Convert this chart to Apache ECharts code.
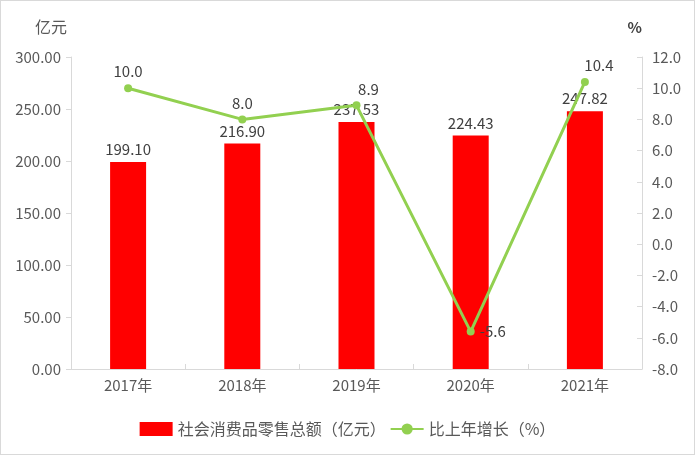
<!DOCTYPE html>
<html>
<head>
<meta charset="utf-8">
<script src="https://cdn.jsdelivr.net/npm/echarts@6/dist/echarts.min.js"></script>
<style>
  html, body { margin: 0; padding: 0; background: #fff; }
  #chart { width: 693px; height: 453px; border: 1px solid #d9d9d9; }
</style>
</head>
<body>
<div id="chart"></div>
<script>
const years = ['2017年', '2018年', '2019年', '2020年', '2021年'];
const retailSales = [199.10, 216.90, 237.53, 224.43, 247.82];
const growthRate = [10.0, 8.0, 8.9, -5.6, 10.4];

const labelFont = '"Noto Sans CJK SC", "Noto Sans", sans-serif';
const textColor = '#595959';

const myChart = echarts.init(document.getElementById('chart'));
const option = {
  animation: false,
  grid: {
    left: 70,
    right: 52,
    top: 56,
    bottom: 85
  },
  legend: {
    bottom: 12,
    left: 'center',
    itemWidth: 33,
    itemHeight: 14,
    itemGap: 4,
    textStyle: {
      color: textColor,
      fontSize: 16,
      fontFamily: labelFont
    },
    data: [
      { name: '社会消费品零售总额（亿元）', icon: 'rect' },
      { name: '比上年增长（%）' }
    ]
  },
  xAxis: {
    type: 'category',
    data: years,
    axisLine: { lineStyle: { color: '#d9d9d9', width: 1 } },
    axisTick: { show: true, inside: true, length: 5, lineStyle: { color: '#d9d9d9' } },
    axisLabel: {
      color: textColor,
      fontSize: 15,
      margin: 9,
      fontFamily: labelFont
    }
  },
  yAxis: [
    {
      type: 'value',
      name: '亿元',
      nameLocation: 'end',
      nameGap: 22,
      nameTextStyle: {
        color: textColor,
        fontSize: 16,
        align: 'right',
        padding: [0, 4, 0, 0],
        fontFamily: labelFont
      },
      min: 0,
      max: 300,
      interval: 50,
      splitLine: { show: false },
      axisLine: { show: true, lineStyle: { color: '#d9d9d9' } },
      axisTick: { show: true, length: 5, lineStyle: { color: '#d9d9d9' } },
      axisLabel: {
        color: textColor,
        fontSize: 15,
        margin: 10,
        fontFamily: labelFont,
        formatter: (v) => v.toFixed(2)
      }
    },
    {
      type: 'value',
      name: '%',
      nameLocation: 'end',
      nameGap: 22,
      nameTextStyle: {
        color: '#404040',
        fontSize: 15,
        fontWeight: 'bold',
        align: 'right',
        fontFamily: labelFont
      },
      min: -8,
      max: 12,
      interval: 2,
      splitLine: { show: false },
      axisLine: { show: true, lineStyle: { color: '#d9d9d9' } },
      axisTick: { show: true, inside: true, length: 5, lineStyle: { color: '#d9d9d9' } },
      axisLabel: {
        color: textColor,
        fontSize: 15,
        margin: 10,
        fontFamily: labelFont,
        formatter: (v) => v.toFixed(1)
      }
    }
  ],
  series: [
    {
      name: '社会消费品零售总额（亿元）',
      type: 'bar',
      barWidth: 36,
      itemStyle: { color: '#ff0000' },
      label: {
        show: true,
        position: 'top',
        distance: 5,
        color: '#404040',
        fontSize: 15,
        fontFamily: labelFont,
        formatter: (p) => p.value.toFixed(2)
      },
      data: retailSales
    },
    {
      name: '比上年增长（%）',
      type: 'line',
      yAxisIndex: 1,
      symbol: 'circle',
      symbolSize: 8,
      lineStyle: { color: '#92d050', width: 3 },
      itemStyle: { color: '#92d050' },
      label: {
        show: true,
        position: 'top',
        distance: 5,
        color: '#404040',
        fontSize: 15,
        fontFamily: labelFont,
        formatter: (p) => p.value.toFixed(1)
      },
      data: growthRate.map((v, i) => {
        if (i === 2) {
          return { value: v, label: { offset: [12, 0] } };
        }
        if (i === 3) {
          return { value: v, label: { position: 'right', distance: 5 } };
        }
        if (i === 4) {
          return { value: v, label: { offset: [14, 0] } };
        }
        return v;
      })
    }
  ]
};
myChart.setOption(option);
</script>
</body>
</html>
